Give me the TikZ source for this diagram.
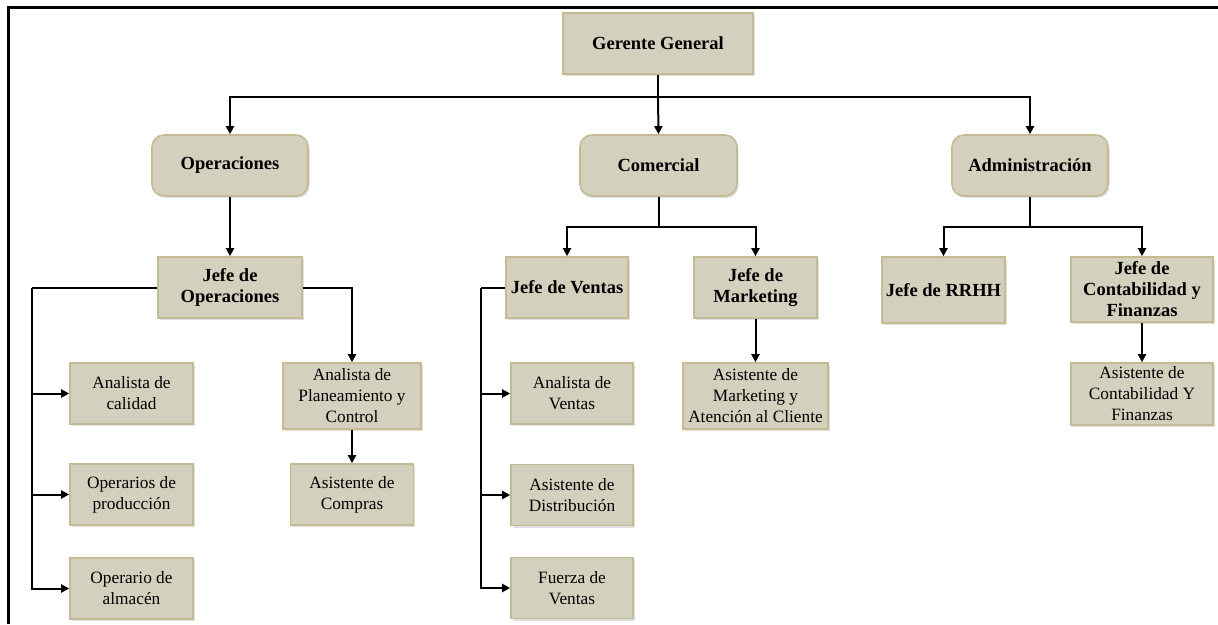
\documentclass[tikz,border=0pt]{standalone}
\usepackage{fontspec}
\setmainfont{Liberation Serif}
\usetikzlibrary{arrows.meta,shadows}
\definecolor{boxfill}{RGB}{212,208,190}
\definecolor{boxline}{RGB}{196,187,148}
\begin{document}
\begin{tikzpicture}[x=1pt,y=-1pt,
  unit/.style={draw=boxline,line width=1.6pt,fill=boxfill,inner sep=2pt,align=center,
    drop shadow={shadow xshift=1.5pt,shadow yshift=-2pt,fill=black,opacity=0.12}},
  boss/.style={unit,font=\fontsize{18.5}{21}\selectfont\bfseries},
  staff/.style={unit,font=\fontsize{17.3}{21}\selectfont},
  area/.style={boss,rounded corners=12pt},
  link/.style={line width=2pt,line join=miter},
  arr/.style={link,-{Triangle[length=8pt,width=8pt]}}]
\useasboundingbox (0,0) rectangle (1218,624);
% page frame (top and left edges)
\draw[line width=3pt] (1218,7) -- (8,7) -- (8,624);

% management
\node[boss,minimum width=190pt,minimum height=61pt] (gg) at (658,43.5) {Gerente General};
\node[area,minimum width=156pt,minimum height=61pt] (ops) at (230,165.5) {Operaciones};
\node[area,minimum width=157pt,minimum height=61pt] (com) at (658.5,165.5) {Comercial};
\node[area,minimum width=156pt,minimum height=61pt] (adm) at (1030,165.5) {Administración};

% heads of department
\node[boss,minimum width=144pt,minimum height=61pt] (jops) at (230,287.5) {Jefe de\\Operaciones};
\node[boss,minimum width=122pt,minimum height=61pt] (jven) at (567,287.5) {Jefe de Ventas};
\node[boss,minimum width=123pt,minimum height=61pt] (jmkt) at (755.5,287.5) {Jefe de\\Marketing};
\node[boss,minimum width=123pt,minimum height=66pt] (jrh) at (943.5,290) {Jefe de RRHH};
\node[boss,minimum width=142pt,minimum height=65pt] (jcf) at (1142,289.5) {Jefe de\\Contabilidad y\\Finanzas};

% staff
\node[staff,minimum width=123pt,minimum height=61pt] (acal) at (131.5,393.5) {Analista de\\calidad};
\node[staff,minimum width=123pt,minimum height=61pt] (opro) at (131.5,494.5) {Operarios de\\producción};
\node[staff,minimum width=123pt,minimum height=61pt] (oalm) at (131.5,588.5) {Operario de\\almacén};
\node[staff,minimum width=138pt,minimum height=66pt] (aplan) at (352,396) {Analista de\\Planeamiento y\\Control};
\node[staff,minimum width=123pt,minimum height=61pt] (acomp) at (352,494.5) {Asistente de\\Compras};
\node[staff,minimum width=122pt,minimum height=61pt] (aven) at (572,393.5) {Analista de\\Ventas};
\node[staff,minimum width=122pt,minimum height=61pt] (adist) at (572,495) {Asistente de\\Distribución};
\node[staff,minimum width=122pt,minimum height=61pt] (fven) at (572,588) {Fuerza de\\Ventas};
\node[staff,minimum width=145pt,minimum height=66pt] (amkt) at (755.5,396) {Asistente de\\Marketing y\\Atención al Cliente};
\node[staff,minimum width=142pt,minimum height=62pt] (acf) at (1142,394) {Asistente de\\Contabilidad Y\\Finanzas};

% junction points
\coordinate (top) at (658,97);
\coordinate (cj) at (658.5,227);
\coordinate (aj) at (1030,227);
\coordinate (oj) at (32,287.5);
\coordinate (vj) at (481,287.5);

% general manager to areas
\draw[link] (gg.south) -- (top);
\draw[arr] (top) -| (ops.north);
\draw[arr] (top) -- (com.north);
\draw[arr] (top) -| (adm.north);

% operations
\draw[arr] (ops.south) -- (jops.north);
\draw[link] (jops.west) -- (oj);
\draw[arr] (oj) |- (acal.west);
\draw[arr] (oj) |- (opro.west);
\draw[arr] (oj) |- (oalm.west);
\draw[arr] (jops.east) -| (aplan.north);
\draw[arr] (aplan.south) -- (acomp.north);

% commercial
\draw[link] (com.south) -- (cj);
\draw[arr] (cj) -| (jven.north);
\draw[arr] (cj) -| (jmkt.north);
\draw[link] (jven.west) -- (vj);
\draw[arr] (vj) |- (aven.west);
\draw[arr] (vj) |- (adist.west);
\draw[arr] (vj) |- (fven.west);
\draw[arr] (jmkt.south) -- (amkt.north);

% administration
\draw[link] (adm.south) -- (aj);
\draw[arr] (aj) -| (jrh.north);
\draw[arr] (aj) -| (jcf.north);
\draw[arr] (jcf.south) -- (acf.north);
\end{tikzpicture}
\end{document}
